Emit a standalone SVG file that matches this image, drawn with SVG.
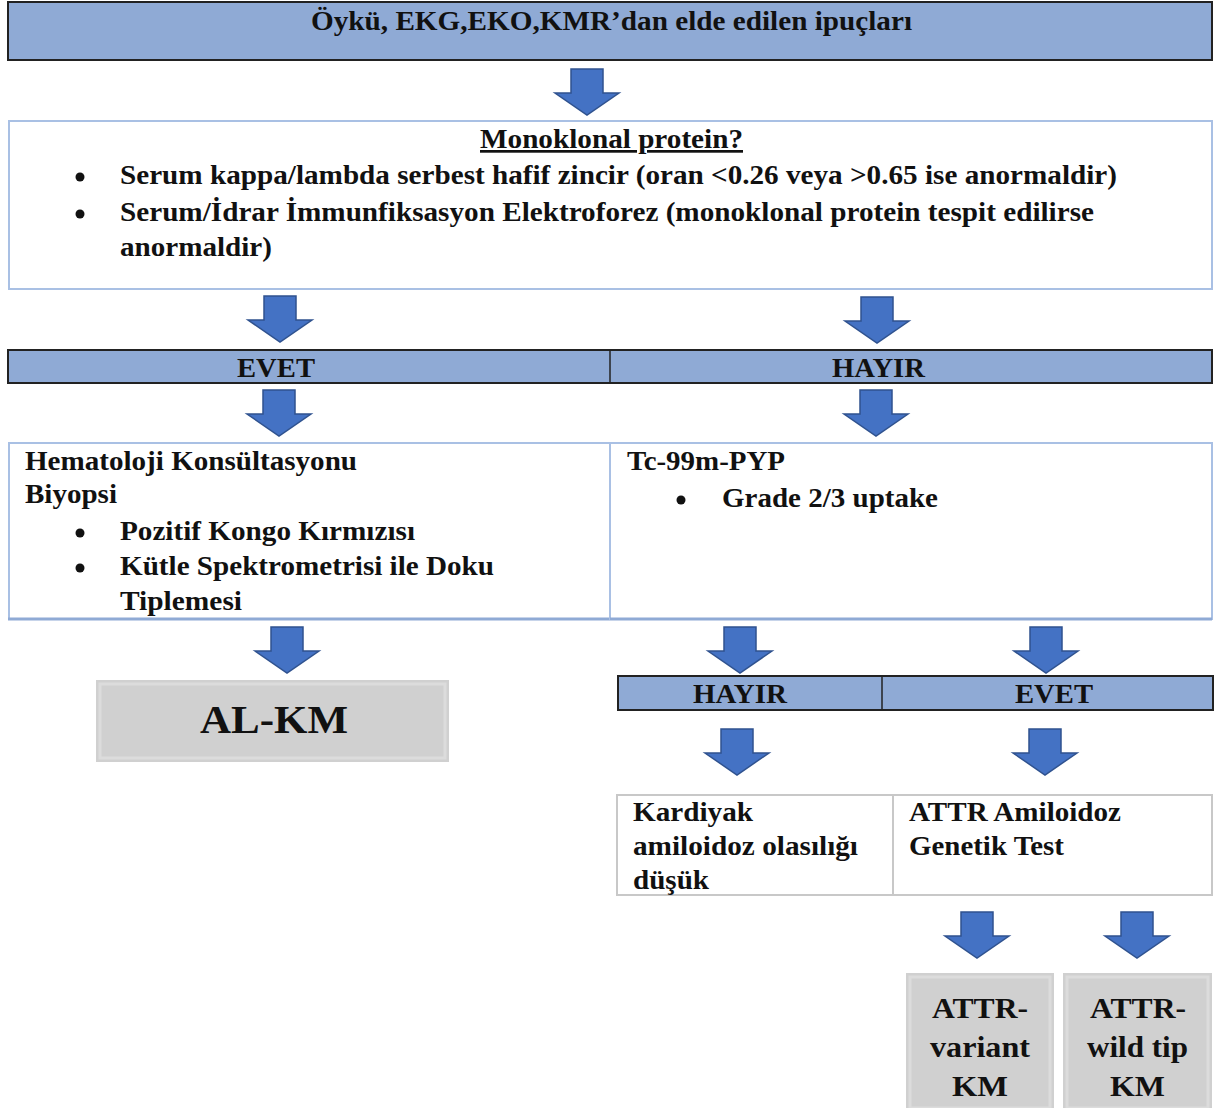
<svg xmlns="http://www.w3.org/2000/svg" xmlns:xlink="http://www.w3.org/1999/xlink" width="1214" height="1108" viewBox="0 0 1214 1108">
<style>
text{font-family:"Liberation Serif","Times New Roman",serif;font-weight:bold;fill:#111}
.t{font-size:27px}
.hdr{fill:#8FAAD5;stroke:#222;stroke-width:2}
.wb{fill:#fff;stroke:#A9C0E4;stroke-width:2}
.gb{fill:#fff;stroke:#C8C8C8;stroke-width:2}
.bev{fill:#D0D0D0}
.bevi{fill:none;stroke:#DCDCDC;stroke-width:3}
.div{stroke:#222;stroke-width:1.5}
.arr{fill:#4472C4;stroke:#2F528F;stroke-width:1.5}
</style>
<defs>
<path id="arr" class="arr" d="M-16,0 H16 V24 H32 L0,46 L-32,24 H-16 Z"/>
</defs>
<rect width="1214" height="1108" fill="#fff"/>

<g id="connectors">
<use xlink:href="#arr" x="587" y="69"/>
<use xlink:href="#arr" x="280" y="296"/>
<use xlink:href="#arr" x="877" y="297"/>
<use xlink:href="#arr" x="279" y="390"/>
<use xlink:href="#arr" x="876" y="390"/>
<use xlink:href="#arr" x="287" y="627"/>
<use xlink:href="#arr" x="740" y="627"/>
<use xlink:href="#arr" x="1046" y="627"/>
<use xlink:href="#arr" x="737" y="729"/>
<use xlink:href="#arr" x="1045" y="729"/>
<use xlink:href="#arr" x="977" y="912"/>
<use xlink:href="#arr" x="1137" y="912"/>
</g>

<g id="n-top">
<rect class="hdr" x="8" y="2" width="1204" height="58"/>
<text class="t" x="311" y="30" textLength="601" lengthAdjust="spacingAndGlyphs">Öykü, EKG,EKO,KMR’dan elde edilen ipuçları</text>
</g>

<g id="n-mono">
<rect class="wb" x="9" y="121" width="1203" height="168"/>
<text class="t" x="480" y="148" textLength="263" lengthAdjust="spacingAndGlyphs" text-decoration="underline">Monoklonal protein?</text>
<circle cx="80" cy="177" r="4.5" fill="#111"/>
<text class="t" x="120" y="184" textLength="997" lengthAdjust="spacingAndGlyphs">Serum kappa/lambda serbest hafif zincir (oran &lt;0.26 veya &gt;0.65 ise anormaldir)</text>
<circle cx="80" cy="214" r="4.5" fill="#111"/>
<text class="t" x="120" y="221" textLength="974" lengthAdjust="spacingAndGlyphs">Serum/İdrar İmmunfiksasyon Elektroforez (monoklonal protein tespit edilirse</text>
<text class="t" x="120" y="256" textLength="152" lengthAdjust="spacingAndGlyphs">anormaldir)</text>
</g>

<g id="n-evet-hayir">
<rect class="hdr" x="8" y="350" width="1204" height="33"/>
<line class="div" x1="610" y1="350" x2="610" y2="383"/>
<text class="t" x="237" y="377" textLength="78" lengthAdjust="spacingAndGlyphs">EVET</text>
<text class="t" x="832" y="377" textLength="93" lengthAdjust="spacingAndGlyphs">HAYIR</text>
</g>

<g id="n-hema">
<rect class="wb" x="9" y="443" width="601" height="176"/>
<line x1="8" y1="619" x2="610" y2="619" stroke="#8FAAD5" stroke-width="3"/>
<text class="t" x="25" y="470" textLength="332" lengthAdjust="spacingAndGlyphs">Hematoloji Konsültasyonu</text>
<text class="t" x="25" y="503" textLength="92" lengthAdjust="spacingAndGlyphs">Biyopsi</text>
<circle cx="80" cy="533" r="4.5" fill="#111"/>
<text class="t" x="120" y="540" textLength="295" lengthAdjust="spacingAndGlyphs">Pozitif Kongo Kırmızısı</text>
<circle cx="80" cy="568" r="4.5" fill="#111"/>
<text class="t" x="120" y="575" textLength="374" lengthAdjust="spacingAndGlyphs">Kütle Spektrometrisi ile Doku</text>
<text class="t" x="120" y="610" textLength="122" lengthAdjust="spacingAndGlyphs">Tiplemesi</text>
</g>

<g id="n-pyp">
<rect class="wb" x="610" y="443" width="602" height="176"/>
<line x1="610" y1="619" x2="1212" y2="619" stroke="#8FAAD5" stroke-width="3"/>
<text class="t" x="627" y="470" textLength="158" lengthAdjust="spacingAndGlyphs">Tc-99m-PYP</text>
<circle cx="681" cy="500" r="4.5" fill="#111"/>
<text class="t" x="722" y="507" textLength="216" lengthAdjust="spacingAndGlyphs">Grade 2/3 uptake</text>
</g>

<g id="n-alkm">
<rect class="bev" x="96" y="680" width="353" height="82"/>
<rect class="bevi" x="100" y="684" width="345" height="74"/>
<text x="200" y="733" font-size="40" textLength="148" lengthAdjust="spacingAndGlyphs">AL-KM</text>
</g>

<g id="n-hayir-evet2">
<rect class="hdr" x="618" y="676" width="595" height="34"/>
<line class="div" x1="882" y1="676" x2="882" y2="710"/>
<text class="t" x="693" y="703" textLength="94" lengthAdjust="spacingAndGlyphs">HAYIR</text>
<text class="t" x="1015" y="703" textLength="78" lengthAdjust="spacingAndGlyphs">EVET</text>
</g>

<g id="n-kardiyak">
<rect class="gb" x="617" y="795" width="276" height="100"/>
<text class="t" x="633" y="821" textLength="120" lengthAdjust="spacingAndGlyphs">Kardiyak</text>
<text class="t" x="633" y="855" textLength="225" lengthAdjust="spacingAndGlyphs">amiloidoz olasılığı</text>
<text class="t" x="633" y="889" textLength="76" lengthAdjust="spacingAndGlyphs">düşük</text>
</g>

<g id="n-genetik">
<rect class="gb" x="893" y="795" width="319" height="100"/>
<text class="t" x="909" y="821" textLength="212" lengthAdjust="spacingAndGlyphs">ATTR Amiloidoz</text>
<text class="t" x="909" y="855" textLength="155" lengthAdjust="spacingAndGlyphs">Genetik Test</text>
</g>

<g id="n-variant">
<rect class="bev" x="906" y="973" width="148" height="135"/>
<rect class="bevi" x="910" y="977" width="140" height="131"/>
<text x="932" y="1018" font-size="30" textLength="96" lengthAdjust="spacingAndGlyphs">ATTR-</text>
<text x="930" y="1057" font-size="30" textLength="100" lengthAdjust="spacingAndGlyphs">variant</text>
<text x="952" y="1096" font-size="30" textLength="56" lengthAdjust="spacingAndGlyphs">KM</text>
</g>

<g id="n-wild">
<rect class="bev" x="1063" y="973" width="149" height="135"/>
<rect class="bevi" x="1067" y="977" width="141" height="131"/>
<text x="1090" y="1018" font-size="30" textLength="96" lengthAdjust="spacingAndGlyphs">ATTR-</text>
<text x="1087" y="1057" font-size="30" textLength="101" lengthAdjust="spacingAndGlyphs">wild tip</text>
<text x="1110" y="1096" font-size="30" textLength="55" lengthAdjust="spacingAndGlyphs">KM</text>
</g>
</svg>
